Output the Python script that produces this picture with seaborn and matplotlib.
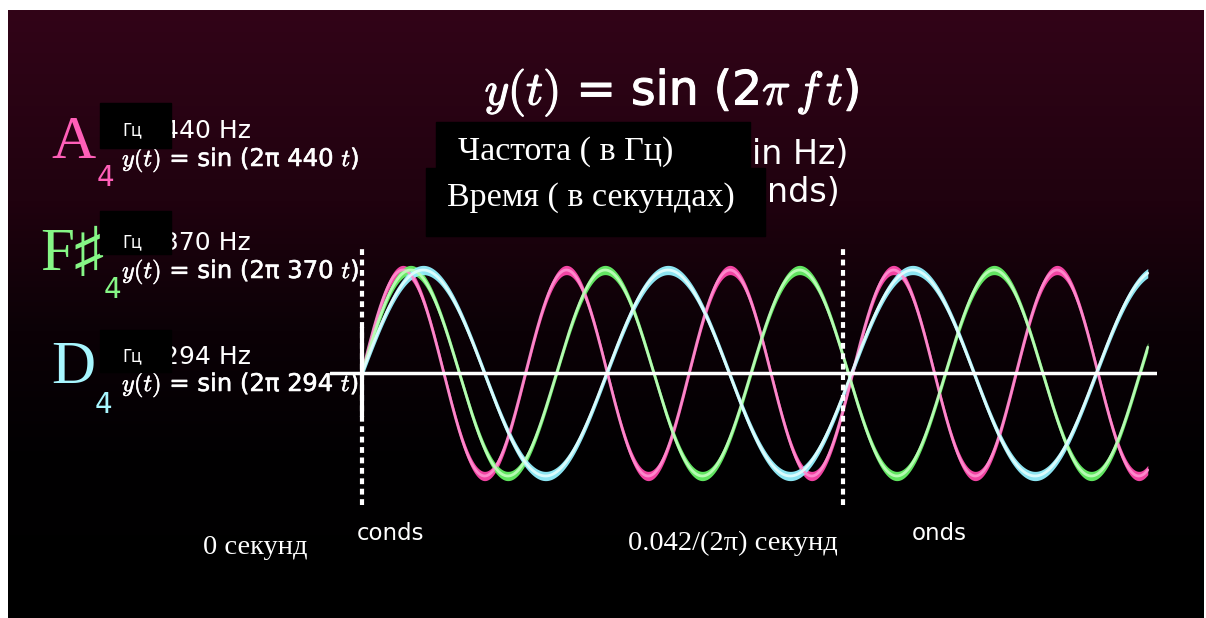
import numpy as np
import matplotlib.pyplot as plt
import matplotlib.patches as mpatches
import matplotlib.patheffects as pe
import seaborn as sns

# Data: three notes and their frequencies
notes = ['A', 'F♯', 'D']
octaves = ['4', '4', '4']
freqs = [440, 370, 294]          # Hz
t_mark = 0.042 / (2 * np.pi)     # second dashed marker (s)
t_end = 0.01092                  # waves are drawn up to here (s)

fill_colors = ['#ff48ac', '#66f266', '#94f2ff']
core_colors = ['#ff8fd0', '#c0ffbc', '#e4ffff']
label_colors = ['#ff5fb8', '#86f786', '#a8f6ff']

sns.set_theme(style='dark')
plt.rcParams['font.family'] = ['DejaVu Sans']
plt.rcParams['mathtext.fontset'] = 'cm'

W, H = 1206, 618
fig = plt.figure(figsize=(W / 100, H / 100), dpi=100)
fig.patch.set_facecolor('white')


def fx(x):
    return x / W


def fy(y):
    return 1 - y / H


bold = [pe.withStroke(linewidth=0.8, foreground='white')]
semibold = [pe.withStroke(linewidth=0.4, foreground='white')]

# background: maroon fading to black
bg = fig.add_axes([fx(8), 0, fx(1196), 608 / H], zorder=-2)
rows = np.arange(10, H)
stops_y = [10, 200, 330, 450, H]
rgb = np.stack([np.interp(rows, stops_y, [50, 32, 11, 2, 0]),
                np.interp(rows, stops_y, [4, 2, 1, 0, 0]),
                np.interp(rows, stops_y, [24, 15, 6, 2, 0])], axis=1) / 255
bg.imshow(rgb[:, None, :], aspect='auto', extent=[0, 1, 0, 1])
bg.axis('off')

# wave axes
pps = 481 / t_mark
ax = fig.add_axes([fx(330), (H - 510) / H, fx(827), 270 / H], zorder=1)
ax.set_facecolor('none')
ax.set_xlim(-32 / pps, 795 / pps)
ax.set_ylim(-137 / 103, 133 / 103)
ax.axis('off')

t = np.linspace(0, t_end, 3000)
for f, fc, cc in zip(freqs, fill_colors, core_colors):
    y = np.sin(2 * np.pi * f * t)
    ax.fill_between(t, y - 0.045, y + 0.045, color=fc, lw=0, alpha=0.95)
    sns.lineplot(x=t, y=y, ax=ax, color=cc, lw=2.0, alpha=0.9)

ax.axhline(0, color='white', lw=2.5, zorder=5)
ax.vlines(0, -0.43, 0.45, color='white', lw=3, zorder=5)
ax.vlines([0, t_mark], -1.28, 1.24, color='white', lw=3,
          linestyles=(0, (1.4, 1.1)), zorder=5)

# title and partially covered descriptions
fig.text(fx(672), fy(93), r'$y(t)$ = sin (2$\pi\,f\,t$)', color='white',
         fontsize=34, ha='center', va='center', zorder=3, path_effects=bold)
fig.text(fx(848), fy(155), 'in Hz)', color='white', fontsize=24,
         ha='right', va='center', zorder=3)
fig.text(fx(840), fy(193), 'nds)', color='white', fontsize=24,
         ha='right', va='center', zorder=3)

serif = ['Liberation Serif', 'DejaVu Serif']
fig.add_artist(mpatches.Rectangle((fx(436), fy(170)), fx(314), 48 / H,
                                  transform=fig.transFigure, color='black', zorder=4))
fig.add_artist(mpatches.Rectangle((fx(426), fy(236)), fx(339), 68 / H,
                                  transform=fig.transFigure, color='black', zorder=4))
fig.text(fx(458), fy(152), 'Частота ( в Гц)', color='white', fontsize=24.5,
         family=serif, ha='left', va='center', zorder=5)
fig.text(fx(447), fy(198), 'Время ( в секундах)', color='white', fontsize=24.5,
         family=serif, ha='left', va='center', zorder=5)

# note labels on the left
rows_y = [(143, 105, 178, 103, 148, 131, 160),
          (255, 112, 290, 211, 254, 243, 272),
          (368, 103, 405, 330, 372, 357, 385)]
for note, octv, f, lc, (yn, x4, y4, b0, b1, yhz, yeq) in zip(
        notes, octaves, freqs, label_colors, rows_y):
    fig.text(fx(73), fy(yn), note, color=lc, fontsize=44,
             family=serif, ha='center', va='center', zorder=3)
    fig.text(fx(x4), fy(y4), octv, color=lc, fontsize=20,
             ha='center', va='center', zorder=3)
    fig.text(fx(163), fy(yhz), f'{f} Hz', color='white', fontsize=18,
             ha='left', va='center', zorder=3)
    fig.text(fx(122), fy(yeq), rf'$y(t)$ = sin (2π {f} $t$)', color='white',
             fontsize=17.5, ha='left', va='center', zorder=3, path_effects=semibold)
    fig.add_artist(mpatches.Rectangle((fx(100), fy(b1)), fx(71), (b1 - b0) / H,
                                      transform=fig.transFigure, color='black', zorder=4))
    fig.text(fx(132), fy(yhz - 1), 'Гц', color='white', fontsize=12.5,
             family=['Noto Sans', 'DejaVu Sans'], ha='center', va='center', zorder=5)

# bottom time labels
fig.text(fx(357), fy(534), 'conds', color='white', fontsize=16.5,
         ha='left', va='center', zorder=3)
fig.text(fx(912), fy(534), 'onds', color='white', fontsize=16.5,
         ha='left', va='center', zorder=3)
fig.text(fx(255), fy(547), '0 секунд', color='white', fontsize=20.5,
         family=serif, ha='center', va='center', zorder=5)
fig.text(fx(733), fy(543), '0.042/(2π) секунд', color='white', fontsize=20.5,
         family=serif, ha='center', va='center', zorder=5)

fig.savefig('out.png', dpi=100, facecolor=fig.get_facecolor())
